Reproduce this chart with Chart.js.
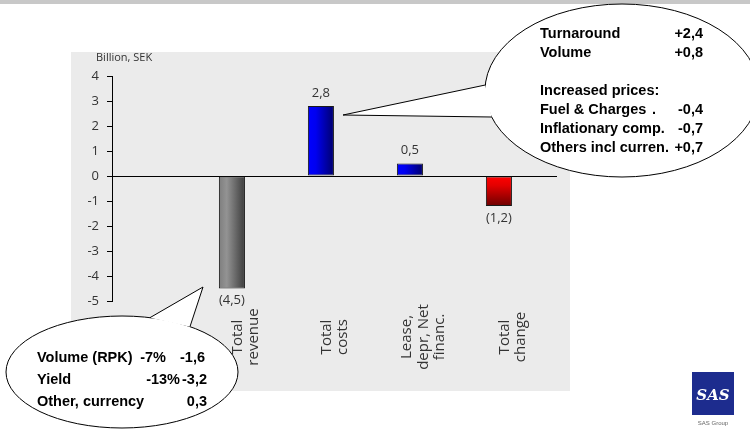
<!DOCTYPE html>
<html>
<head>
<meta charset="utf-8">
<title>Change in result</title>
<script src="https://cdn.jsdelivr.net/npm/chart.js"></script>
<style>
  html, body { margin: 0; padding: 0; background: #fff; }
  #wrap { position: relative; width: 750px; height: 430px; overflow: hidden; }
  #topband { position: absolute; left: 0; top: 0; width: 750px; height: 4px; background: #c8c8c8; }
  #plotbg { position: absolute; left: 71px; top: 52px; width: 499px; height: 339px; background: #ebebeb; }
  canvas, svg { position: absolute; left: 0; top: 0; }
  svg text { font-family: "Liberation Sans", Arial, sans-serif; font-weight: bold; font-size: 14.5px; fill: #000; }
</style>
</head>
<body>
<div id="wrap">
  <div id="topband"></div>
  <div id="plotbg"></div>
  <canvas id="chart" width="750" height="430"></canvas>
  <svg id="notes" width="750" height="430" xmlns="http://www.w3.org/2000/svg"></svg>
</div>

<script>
// data (billion SEK)
const categories = [[''], ['Total', 'revenue'], ['Total', 'costs'], ['Lease,', 'depr, Net', 'financ.'], ['Total', 'change']];
const values = [null, -4.5, 2.8, 0.5, -1.2];
const spacerSeries = [null, null, null, null, null]; // empty 2nd series, the original bars sit left of centre
const yMin = -5, yMax = 4;
const unitLabel = 'Billion, SEK';

const costNotes = [
  ['Turnaround', '+2,4'],
  ['Volume', '+0,8'],
  ['', ''],
  ['Increased prices:', ''],
  ['Fuel & Charges', '-0,4'],
  ['Inflationary comp.', '-0,7'],
  ['Others incl curren.', '+0,7']
];
const revenueNotes = [
  ['Volume (RPK)', '-7%', '-1,6'],
  ['Yield', '-13%', '-3,2'],
  ['Other, currency', '', '0,3']
];

// fill styles: direction + gradient stops
const barFills = [
  null,
  ['h', '#7e7e7e', '#939393', '#3c3c3c'],
  ['h', '#0000ff', '#0000f0', '#00006c'],
  ['h', '#0000ff', '#0000f0', '#00006c'],
  ['v', '#ff0000', '#e40000', '#6c0000']
];

const fmt = v => String(Math.abs(v).toFixed(1)).replace('.', ',');

const barGradients = {
  id: 'barGradients',
  beforeDatasetsDraw(chart) {
    const ctx = chart.ctx;
    chart.getDatasetMeta(0).data.forEach((bar, i) => {
      const f = barFills[i];
      if (!f || values[i] == null) return;
      const p = bar.getProps(['x', 'y', 'base', 'width'], true);
      const top = Math.min(p.y, p.base), bot = Math.max(p.y, p.base);
      const g = f[0] === 'h'
        ? ctx.createLinearGradient(p.x - p.width / 2, 0, p.x + p.width / 2, 0)
        : ctx.createLinearGradient(0, top, 0, bot);
      g.addColorStop(0, f[1]);
      g.addColorStop(0.3, f[2]);
      g.addColorStop(1, f[3]);
      bar.options = Object.assign({}, bar.options, { backgroundColor: g });
    });
  }
};

const valueLabels = {
  id: 'valueLabels',
  afterDatasetsDraw(chart) {
    const ctx = chart.ctx;
    ctx.save();
    ctx.font = '13px "Open Sans"';
    ctx.fillStyle = '#333';
    ctx.textAlign = 'center';
    ctx.textBaseline = 'middle';
    chart.getDatasetMeta(0).data.forEach((bar, i) => {
      const v = values[i];
      if (v == null) return;
      const txt = v < 0 ? '(' + fmt(v) + ')' : fmt(v);
      ctx.fillText(txt, bar.x, v < 0 ? bar.y + 12 : bar.y - 13);
    });
    ctx.restore();
  }
};

const categoryLabels = {
  id: 'categoryLabels',
  afterDraw(chart) {
    const ctx = chart.ctx, x = chart.scales.x;
    const lh = 16.5;
    ctx.save();
    ctx.font = '15px "Open Sans"';
    ctx.fillStyle = '#333';
    ctx.textAlign = 'center';
    ctx.textBaseline = 'middle';
    categories.forEach((lines, i) => {
      const cx = x.getPixelForValue(i);
      lines.forEach((t, j) => {
        ctx.save();
        ctx.translate(cx + (j - (lines.length - 1) / 2) * lh, 337);
        ctx.rotate(-Math.PI / 2);
        ctx.fillText(t, 0, 0);
        ctx.restore();
      });
    });
    // unit above the y axis
    ctx.font = '11px "Open Sans"';
    ctx.textAlign = 'left';
    ctx.fillText(unitLabel, 96, 58);
    ctx.restore();
  }
};

new Chart(document.getElementById('chart'), {
  type: 'bar',
  data: {
    labels: categories,
    datasets: [
      { data: values, backgroundColor: () => '#888', borderColor: '#1a1a1a', borderWidth: 1, borderSkipped: false },
      { data: spacerSeries }
    ]
  },
  options: {
    responsive: false,
    animation: false,
    devicePixelRatio: 1,
    datasets: { bar: { categoryPercentage: 0.61, barPercentage: 0.96 } },
    layout: { padding: { left: 0, top: 76, right: 193, bottom: 129 } },
    plugins: { legend: { display: false }, tooltip: { enabled: false } },
    scales: {
      x: { display: false },
      y: {
        min: yMin, max: yMax,
        afterFit(s) { s.width = 112; },
        ticks: { stepSize: 1, padding: 8, color: '#333', font: { family: 'Open Sans', size: 13 } },
        grid: {
          color: c => (c.tick && c.tick.value === 0 ? '#000' : 'rgba(0,0,0,0)'),
          tickColor: '#000', tickLength: 5, lineWidth: 1
        },
        border: { display: true, color: '#000', width: 1 }
      }
    }
  },
  plugins: [barGradients, valueLabels, categoryLabels]
});

// callout bubbles + logo
const NS = 'http://www.w3.org/2000/svg';
const svg = document.getElementById('notes');
function el(tag, attrs, text) {
  const e = document.createElementNS(NS, tag);
  for (const k in attrs) e.setAttribute(k, attrs[k]);
  if (text != null) e.textContent = text;
  svg.appendChild(e);
  return e;
}
function edgeX(cx, cy, rx, ry, y, side) { return cx + side * rx * Math.sqrt(1 - ((y - cy) / ry) ** 2); }
function edgeY(cx, cy, rx, ry, x, side) { return cy + side * ry * Math.sqrt(1 - ((x - cx) / rx) ** 2); }

function callout(cx, cy, rx, ry, a, tip, b) {
  el('ellipse', { cx, cy, rx, ry, fill: '#fff', stroke: '#000', 'stroke-width': 1 });
  const pts = a.join(',') + ' ' + tip.join(',') + ' ' + b.join(',');
  el('polygon', { points: pts, fill: '#fff', stroke: 'none' });
  el('polyline', { points: pts, fill: 'none', stroke: '#000', 'stroke-width': 1 });
}

// right bubble (cost notes)
{
  const cx = 622, cy = 90.5, rx = 137, ry = 86.5;
  callout(cx, cy, rx, ry, [edgeX(cx, cy, rx, ry, 85, -1), 85], [343, 115], [edgeX(cx, cy, rx, ry, 117, -1), 117]);
  costNotes.forEach((r, i) => {
    const y = 38 + i * 19;
    if (r[0]) el('text', { x: 540, y }, r[0]);
    if (r[1]) el('text', { x: 703, y, 'text-anchor': 'end' }, r[1]);
  });
  el('text', { x: 652, y: 38 + 4 * 19 }, '.');
}

// left bubble (revenue notes)
{
  const cx = 122, cy = 372, rx = 116, ry = 56;
  callout(cx, cy, rx, ry, [150, edgeY(cx, cy, rx, ry, 150, -1)], [203, 287], [190, edgeY(cx, cy, rx, ry, 190, -1)]);
  const pctEnd = [166, 180], valEnd = [205, 207, 207];
  revenueNotes.forEach((r, i) => {
    const y = 362 + i * 22;
    el('text', { x: 37, y }, r[0]);
    if (r[1]) el('text', { x: pctEnd[i], y, 'text-anchor': 'end' }, r[1]);
    el('text', { x: valEnd[i], y, 'text-anchor': 'end' }, r[2]);
  });
}

// SAS logo
el('rect', { x: 692, y: 372, width: 42, height: 43, fill: '#1d2c8e' });
el('text', { x: 713, y: 400, 'text-anchor': 'middle', style: 'fill:#fff;font-style:italic;font-size:15px;font-family:"DejaVu Serif",serif' }, 'SAS');
el('text', { x: 713, y: 425, 'text-anchor': 'middle', style: 'fill:#666;font-weight:normal;font-size:6px' }, 'SAS Group');
</script>
</body>
</html>
